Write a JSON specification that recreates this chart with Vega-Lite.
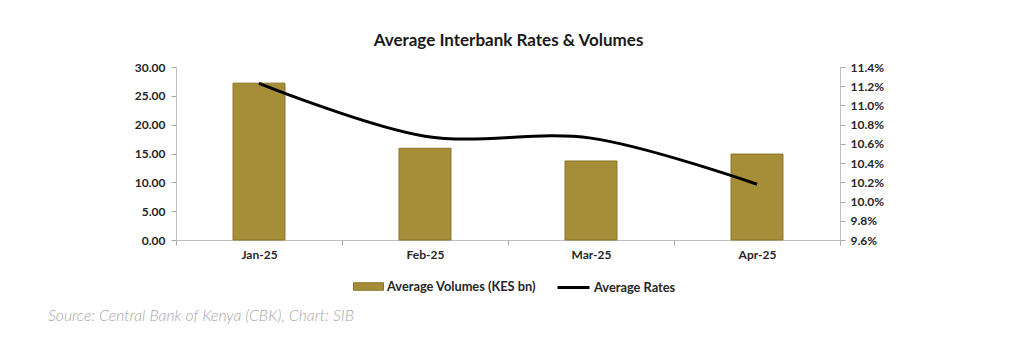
{
  "$schema": "https://vega.github.io/schema/vega-lite/v6.json",
  "width": 664,
  "height": 173,
  "autosize": "none",
  "padding": {"left": 176, "top": 67, "right": 184, "bottom": 114},
  "background": "white",
  "config": {
    "view": {"stroke": null},
    "font": "Lato",
    "axis": {"grid": false, "domainColor": "#BFBFBF", "tickColor": "#A6A6A6", "tickSize": 5, "labelFont": "Lato", "labelFontWeight": "bold", "labelFontSize": 12, "labelColor": "#262626"}
  },
  "title": {
    "text": "Source: Central Bank of Kenya (CBK), Chart: SIB",
    "orient": "bottom",
    "anchor": "start",
    "frame": "group",
    "dx": -128,
    "offset": 14,
    "font": "Lato",
    "fontStyle": "italic",
    "fontWeight": 300,
    "fontSize": 15.8,
    "color": "#A6A6A6"
  },
  "data": {
    "values": [
      {"month": "Jan-25", "volume": 27.2, "rate": 11.23},
      {"month": "Feb-25", "volume": 15.9, "rate": 10.68},
      {"month": "Mar-25", "volume": 13.7, "rate": 10.66},
      {"month": "Apr-25", "volume": 14.9, "rate": 10.18}
    ]
  },
  "layer": [
    {
      "mark": {"type": "bar", "stroke": "#8A7424", "strokeWidth": 1, "width": {"band": 0.313}},
      "encoding": {
        "x": {
          "field": "month", "type": "nominal", "sort": null,
          "scale": {"paddingInner": 0, "paddingOuter": 0},
          "axis": {"orient": "bottom", "title": null, "labelAngle": 0, "tickBand": "extent", "labelPadding": 4}
        },
        "y": {
          "field": "volume", "type": "quantitative",
          "scale": {"domain": [0, 30], "nice": false},
          "axis": {"orient": "left", "title": null, "values": [0, 5, 10, 15, 20, 25, 30], "format": ".2f", "labelPadding": 6}
        },
        "fill": {
          "datum": "Average Volumes (KES bn)",
          "scale": {"range": ["#A68E38"]},
          "legend": {"orient": "none", "legendX": 177, "legendY": 204, "direction": "horizontal", "title": null, "symbolType": "M-1,-0.25H1V0.25H-1Z", "symbolSize": 900, "symbolStrokeColor": "#8A7424", "symbolStrokeWidth": 1, "labelFont": "Lato", "labelFontWeight": "bold", "labelFontSize": 12.8, "labelColor": "#262626", "labelOffset": 3}
        }
      }
    },
    {
      "mark": {"type": "line", "interpolate": "catmull-rom", "strokeWidth": 3},
      "encoding": {
        "x": {
          "field": "month", "type": "nominal", "sort": null,
          "axis": {"orient": "top", "title": "Average Interbank Rates & Volumes", "labels": false, "ticks": false, "domain": false, "titleFont": "Lato", "titleFontWeight": "bold", "titleFontSize": 17, "titleColor": "#1a1a1a", "titlePadding": 18}
        },
        "y": {
          "field": "rate", "type": "quantitative",
          "scale": {"domain": [9.6, 11.4], "nice": false, "zero": false},
          "axis": {"orient": "right", "title": null, "values": [9.6, 9.8, 10.0, 10.2, 10.4, 10.6, 10.8, 11.0, 11.2, 11.4], "labelExpr": "format(datum.value, '.1f') + '%'", "labelPadding": 5}
        },
        "stroke": {
          "datum": "Average Rates",
          "scale": {"range": ["#000000"]},
          "legend": {"orient": "none", "legendX": 380, "legendY": 203, "direction": "horizontal", "title": null, "symbolType": "stroke", "symbolSize": 1024, "symbolStrokeWidth": 3, "labelFont": "Lato", "labelFontWeight": "bold", "labelFontSize": 12.8, "labelColor": "#262626", "labelOffset": 3}
        }
      }
    }
  ],
  "resolve": {"scale": {"y": "independent", "fill": "independent", "stroke": "independent"}, "axis": {"x": "independent"}}
}
